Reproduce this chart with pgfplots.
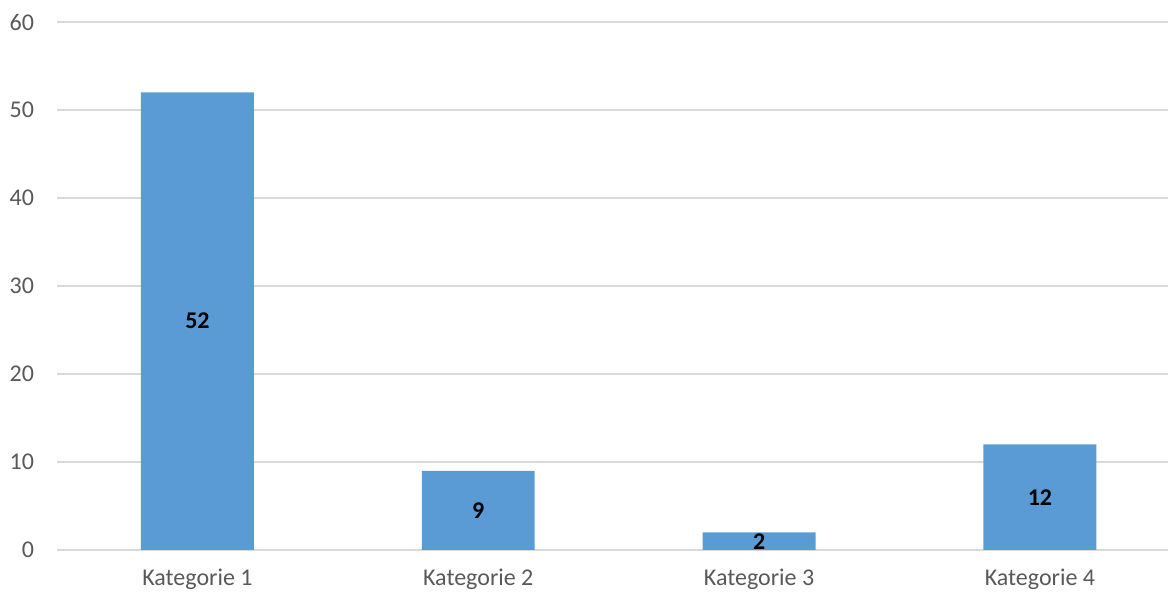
\documentclass[border=0pt]{standalone}
\usepackage{fontspec}
\setmainfont{Carlito}
\usepackage{pgfplots}
\pgfplotsset{compat=1.18}
\definecolor{barblue}{HTML}{5B9BD5}
\definecolor{gridgray}{HTML}{D9D9D9}
\definecolor{labgray}{HTML}{595959}
\begin{document}
\begin{tikzpicture}
\useasboundingbox (0,0) rectangle (584pt,297pt);
\begin{axis}[
  at={(28.5pt,22pt)}, anchor=south west,
  scale only axis, width=555.5pt, height=264pt,
  xmin=-0.5, xmax=3.456, ymin=0, ymax=60,
  axis line style={draw=none},
  xtick={0,1,2,3},
  xticklabels={Kategorie 1,Kategorie 2,Kategorie 3,Kategorie 4},
  ytick={0,10,...,60},
  major tick length=0pt,
  ymajorgrids, grid style={gridgray, line width=0.8pt},
  tick label style={font=\fontsize{12}{14}\selectfont, text=labgray},
  yticklabel style={xshift=-8pt},
  xticklabel style={yshift=-6pt},
  /pgf/number format/assume math mode=true,
  clip=false,
]
\addplot[ybar, bar width=0.402, fill=barblue, draw=none,
  nodes near coords,
  visualization depends on={y \as \rawy},
  nodes near coords style={font=\fontsize{12}{14}\selectfont\bfseries, text=black, anchor=center,
    shift={(axis direction cs:0,-\rawy/2)}},
] coordinates {(0,52) (1,9) (2,2) (3,12)};
\end{axis}
\end{tikzpicture}
\end{document}
